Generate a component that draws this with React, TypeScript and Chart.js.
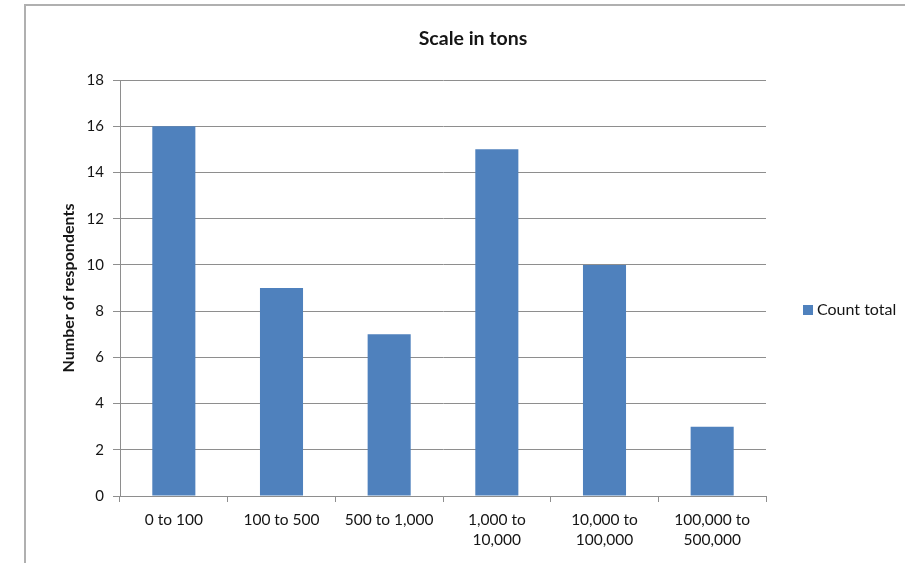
import React, { useEffect, useRef } from 'react';
import { Chart, registerables } from 'chart.js';

Chart.register(...registerables);

const chartTitle = 'Scale in tons';
const yAxisTitle = 'Number of respondents';
const seriesName = 'Count total';
const categories: string[][] = [
  ['0 to 100'],
  ['100 to 500'],
  ['500 to 1,000'],
  ['1,000 to', '10,000'],
  ['10,000 to', '100,000'],
  ['100,000 to', '500,000'],
];
const countTotal = [16, 9, 7, 15, 10, 3];
const yMin = 0;
const yMax = 18;
const yStep = 2;

const BAR_COLOR = '#4F81BD';
const GRID_COLOR = '#8e8e8e';
const TEXT_COLOR = '#151515';
const FONT = 'Lato, "DejaVu Sans", sans-serif';

const overlayPlugin = {
  id: 'overlayText',
  afterDraw(chart: any) {
    const ctx = chart.ctx;
    ctx.save();
    // Title
    ctx.fillStyle = TEXT_COLOR;
    ctx.font = `bold 19.5px ${FONT}`;
    ctx.textAlign = 'center';
    ctx.textBaseline = 'middle';
    ctx.fillText(chartTitle, 473, 39);
    // Legend
    const area = chart.chartArea;
    const ly = (area.top + area.bottom) / 2 + 22;
    ctx.fillStyle = BAR_COLOR;
    ctx.fillRect(803, ly - 5, 10, 10);
    ctx.fillStyle = TEXT_COLOR;
    ctx.font = `16px ${FONT}`;
    ctx.textAlign = 'left';
    ctx.fillText(seriesName, 817, ly);
    ctx.restore();
  },
};

export default function App() {
  const canvasRef = useRef<HTMLCanvasElement | null>(null);

  useEffect(() => {
    if (!canvasRef.current) return;
    const chart = new Chart(canvasRef.current, {
      type: 'bar',
      data: {
        labels: categories,
        datasets: [
          {
            label: seriesName,
            data: countTotal,
            backgroundColor: BAR_COLOR,
            borderWidth: 0,
            barPercentage: 0.4,
            categoryPercentage: 1,
          },
        ],
      },
      options: {
        responsive: false,
        animation: false,
        layout: { padding: { left: 30, top: 80, right: 139, bottom: 7 } },
        plugins: {
          legend: { display: false },
          title: { display: false },
          tooltip: { enabled: false },
        },
        scales: {
          x: {
            offset: true,
            grid: {
              offset: true,
              drawOnChartArea: false,
              drawTicks: true,
              tickLength: 6,
              color: GRID_COLOR,
            },
            border: { color: GRID_COLOR, width: 1 },
            ticks: {
              color: TEXT_COLOR,
              font: { family: FONT, size: 15.5, lineHeight: 1.3 },
              padding: 8,
              maxRotation: 0,
              autoSkip: false,
            },
            afterFit(scale: any) {
              scale.height = 60;
            },
          },
          y: {
            min: yMin,
            max: yMax,
            ticks: {
              stepSize: yStep,
              color: TEXT_COLOR,
              font: { family: FONT, size: 15 },
              padding: 9,
            },
            grid: {
              color: GRID_COLOR,
              tickLength: 7,
              drawTicks: true,
            },
            border: { color: GRID_COLOR, width: 1 },
            title: {
              display: true,
              text: yAxisTitle,
              color: TEXT_COLOR,
              font: { family: FONT, size: 16, weight: 'bold', lineHeight: 1.2 },
              padding: { top: 29, bottom: 0 },
            },
            afterFit(scale: any) {
              scale.width = 90;
            },
          },
        },
      },
      plugins: [overlayPlugin],
    } as any);
    return () => chart.destroy();
  }, []);

  return (
    <div
      style={{
        position: 'fixed',
        left: 0,
        top: 0,
        width: 905,
        height: 563,
        overflow: 'hidden',
        background: '#ffffff',
      }}
    >
      <div
        style={{
          position: 'absolute',
          left: 24,
          top: 4,
          width: 1000,
          height: 1000,
          borderLeft: '2px solid #b0b0b0',
          borderTop: '2px solid #b0b0b0',
        }}
      />
      <canvas
        ref={canvasRef}
        width={905}
        height={563}
        style={{ position: 'absolute', left: 0, top: 0, width: 905, height: 563 }}
      />
    </div>
  );
}
